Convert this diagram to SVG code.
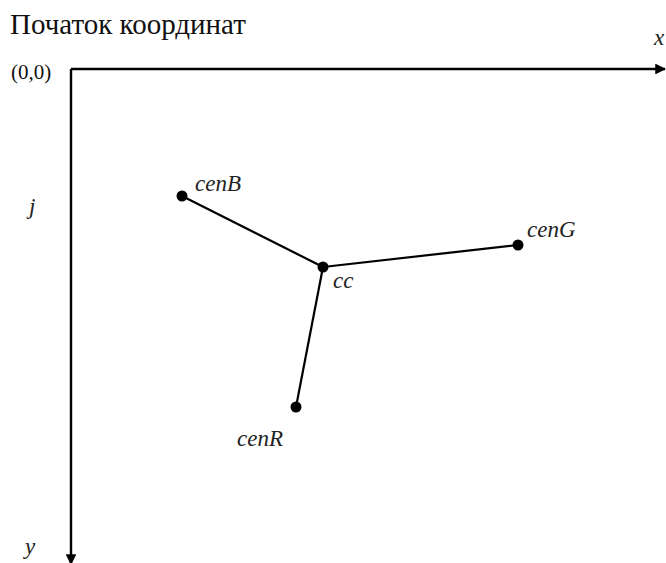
<svg xmlns="http://www.w3.org/2000/svg" width="666" height="563" viewBox="0 0 666 563">
  <style>
    text { font-family: "Liberation Serif", "DejaVu Serif", "Times New Roman", serif; }
    .title { font-size: 29px; fill: #111; }
    .lbl { font-size: 21px; fill: #111; }
    .it { font-style: italic; font-size: 23px; fill: #222; }
    .axis { stroke: #000; stroke-width: 2.4; fill: none; }
    .edge { stroke: #000; stroke-width: 2.2; fill: none; }
    .dot { fill: #000; }
  </style>
  <defs>
    <marker id="arrow" viewBox="0 0 10 10" refX="9" refY="5" markerWidth="4.5" markerHeight="4.5" markerUnits="strokeWidth" orient="auto">
      <path d="M0,0 L10,5 L0,10 Z" fill="#000"/>
    </marker>
  </defs>
  <rect width="666" height="563" fill="#fff"/>

  <text class="title" x="10" y="34">Початок координат</text>

  <!-- coordinate axes -->
  <g id="axes">
    <line class="axis" x1="71" y1="69" x2="665" y2="69" marker-end="url(#arrow)"/>
    <line class="axis" x1="71" y1="69" x2="71" y2="564" marker-end="url(#arrow)"/>
    <text class="lbl" x="11" y="79">(0,0)</text>
    <text class="it" x="654" y="45">x</text>
    <text class="it" x="29" y="214">j</text>
    <text class="it" x="25" y="554">y</text>
  </g>

  <!-- segments joining the centroids -->
  <g id="connectors">
    <line class="edge" x1="182" y1="196" x2="323" y2="267"/>
    <line class="edge" x1="323" y1="267" x2="518" y2="245"/>
    <line class="edge" x1="323" y1="267" x2="296" y2="407"/>
  </g>

  <g id="cenB">
    <circle class="dot" cx="182" cy="196" r="5.5"/>
    <text class="it" x="195" y="191">cenB</text>
  </g>
  <g id="cc">
    <circle class="dot" cx="323" cy="267" r="5.5"/>
    <text class="it" x="333" y="288">cc</text>
  </g>
  <g id="cenG">
    <circle class="dot" cx="518" cy="245" r="5.5"/>
    <text class="it" x="527" y="237">cenG</text>
  </g>
  <g id="cenR">
    <circle class="dot" cx="296" cy="407" r="5.5"/>
    <text class="it" x="237" y="446">cenR</text>
  </g>
</svg>
